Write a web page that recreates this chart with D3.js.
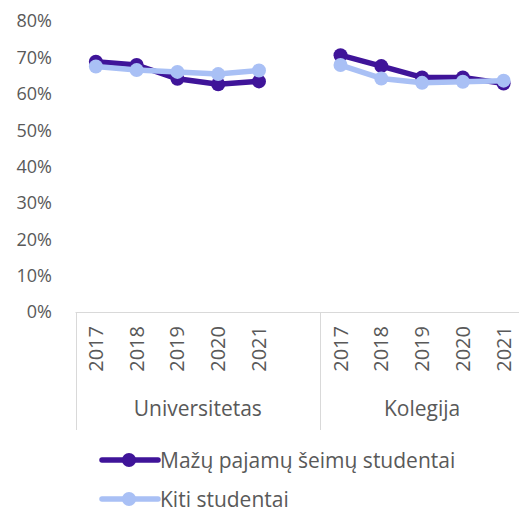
<!DOCTYPE html>
<html>
<head>
<meta charset="utf-8">
<script src="https://cdn.jsdelivr.net/npm/d3@7"></script>
<style>
  body { margin: 0; background: #fff; }
  text { font-family: "Open Sans", "Noto Sans", sans-serif; fill: #595959; }
</style>
</head>
<body>
<script>
// chart data
var groups = ["Universitetas", "Kolegija"];
var years = ["2017", "2018", "2019", "2020", "2021"];
var seriesNames = ["Mažų pajamų šeimų studentai", "Kiti studentai"];
var lowIncomeUni = [0.688, 0.679, 0.641, 0.626, 0.634];
var lowIncomeKol = [0.706, 0.676, 0.645, 0.645, 0.628];
var otherUni = [0.675, 0.665, 0.66, 0.654, 0.664];
var otherKol = [0.679, 0.642, 0.630, 0.633, 0.636];
var yTicks = [0, 0.1, 0.2, 0.3, 0.4, 0.5, 0.6, 0.7, 0.8];
var colors = ["#3f1499", "#a9c0f5"];

window.onload = function(){

    var w = 519, h = 512;

    var svg = d3.select("body")
        .append("svg")
        .attr("width", w)
        .attr("height", h);

    // 11 slots: 5 years + blank per group (blank after Universitetas)
    var slots = [];
    groups.forEach(function(g, gi){
        years.forEach(function(yr){ slots.push(g + "|" + yr); });
        if (gi === 0) slots.push(g + "|blank");
    });

    var x = d3.scaleBand()
        .domain(slots)
        .range([75.5, 524]);

    var y = d3.scaleLinear()
        .domain([0, 0.8])
        .range([312, 21]);

    // y axis labels
    svg.selectAll(".ylab")
        .data(yTicks)
        .enter()
        .append("text")
        .attr("class", "ylab")
        .attr("x", 52)
        .attr("y", function(d){ return y(d); })
        .attr("dy", "0.36em")
        .attr("text-anchor", "end")
        .style("font-size", "18px")
        .text(function(d){ return d3.format(".0%")(d); });

    // category axis
    svg.append("line")
        .attr("x1", 75.5).attr("x2", 524)
        .attr("y1", 312.5).attr("y2", 312.5)
        .style("stroke", "#d9d9d9");

    var seps = [x.range()[0], x(groups[1] + "|2017")];
    svg.selectAll(".sep")
        .data(seps)
        .enter()
        .append("line")
        .attr("x1", function(d){ return Math.round(d) + 0.5; })
        .attr("x2", function(d){ return Math.round(d) + 0.5; })
        .attr("y1", 312)
        .attr("y2", 430)
        .style("stroke", "#d9d9d9");

    // year labels
    groups.forEach(function(g){
        years.forEach(function(yr){
            var cx = x(g + "|" + yr) + x.bandwidth() / 2;
            svg.append("text")
                .attr("transform", "translate(" + (cx + 7) + ",326) rotate(-90)")
                .attr("text-anchor", "end")
                .style("font-size", "20px")
                .text(yr);
        });
    });

    // group labels
    var groupCenters = [
        (x(groups[0] + "|2017") + x(groups[0] + "|blank") + x.bandwidth()) / 2,
        (x(groups[1] + "|2017") + x.range()[1]) / 2
    ];
    svg.selectAll(".glab")
        .data(groups)
        .enter()
        .append("text")
        .attr("class", "glab")
        .attr("x", function(d, i){ return groupCenters[i]; })
        .attr("y", 416)
        .attr("text-anchor", "middle")
        .style("font-size", "21px")
        .text(function(d){ return d; });

    // series: one line per group
    var seriesData = [
        [lowIncomeUni, lowIncomeKol],
        [otherUni, otherKol]
    ];

    var line = d3.line()
        .x(function(d){ return d.x; })
        .y(function(d){ return y(d.v); });

    seriesData.forEach(function(sets, si){
        sets.forEach(function(vals, gi){
            var pts = vals.map(function(v, i){
                return { x: x(groups[gi] + "|" + years[i]) + x.bandwidth() / 2, v: v };
            });
            svg.append("path")
                .datum(pts)
                .attr("d", line)
                .style("fill", "none")
                .style("stroke", colors[si])
                .style("stroke-width", 5.5)
                .style("stroke-linejoin", "round");
            svg.selectAll(null)
                .data(pts)
                .enter()
                .append("circle")
                .attr("cx", function(d){ return d.x; })
                .attr("cy", function(d){ return y(d.v); })
                .attr("r", 7)
                .style("fill", colors[si]);
        });
    });

    // legend
    var legend = svg.selectAll(".legend")
        .data(seriesNames)
        .enter()
        .append("g")
        .attr("class", "legend")
        .attr("transform", function(d, i){ return "translate(100," + (460 + i * 39) + ")"; });

    legend.append("line")
        .attr("x1", 2).attr("x2", 58)
        .attr("y1", 0).attr("y2", 0)
        .style("stroke", function(d, i){ return colors[i]; })
        .style("stroke-width", 5.5)
        .style("stroke-linecap", "round");

    legend.append("circle")
        .attr("cx", 29).attr("cy", 0).attr("r", 7)
        .style("fill", function(d, i){ return colors[i]; });

    legend.append("text")
        .attr("x", 60)
        .attr("dy", "0.36em")
        .style("font-size", "21px")
        .text(function(d){ return d; });
};
</script>
</body>
</html>
